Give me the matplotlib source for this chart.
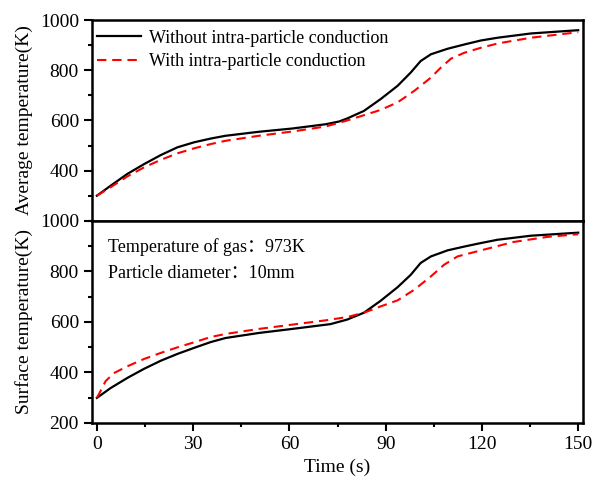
import matplotlib
matplotlib.use('Agg')
import matplotlib.pyplot as plt
from matplotlib.ticker import MultipleLocator

plt.rcParams['font.family'] = ['Liberation Serif', 'Noto Sans CJK SC']

# Average temperature (top panel)
t_avg_wo = [0, 4.3, 9.5, 14.7, 19.9, 25.1, 30.3, 35.5, 40.1, 50.5, 60.9, 71.3, 75.5,
            78, 83.2, 88.4, 93.7, 97.8, 100.9, 104.1, 109.3, 114.5, 119.7, 124.9, 135.3, 150]
T_avg_wo = [300, 340, 387, 426, 462, 493, 513, 528, 539, 555, 568, 585, 596,
            608, 638, 685, 738, 791, 837, 864, 886, 903, 919, 930, 947, 960]
t_avg_w = [0, 4.3, 9.5, 14.7, 19.9, 25.1, 30.3, 35.5, 40.1, 50.5, 60.9, 71.3, 78,
           83.2, 88.4, 93.7, 98.9, 104.1, 107.2, 110.4, 114.5, 119.7, 124.9, 135.3, 150]
T_avg_w = [300, 334, 377, 413, 443, 469, 489, 506, 519, 539, 556, 576, 600,
           621, 642, 672, 718, 771, 811, 847, 870, 890, 907, 930, 952]

# Surface temperature (bottom panel)
t_surf_wo = [0, 4.3, 9.5, 14.7, 19.9, 25.1, 30.3, 35.5, 40.1, 50.5, 60.9, 72.8, 78,
             83.2, 88.4, 93.7, 97.8, 100.9, 104.1, 109.3, 114.5, 119.7, 124.9, 135.3, 150]
T_surf_wo = [299, 338, 378, 414, 446, 473, 497, 520, 536, 556, 572, 591, 609,
             636, 683, 737, 786, 833, 859, 883, 898, 912, 925, 941, 953]
t_surf_w = [0, 1.1, 2.7, 5.3, 9.5, 14.7, 19.9, 25.1, 30.3, 35.5, 40.1, 50.5, 60.9,
            71.3, 78, 83.2, 88.4, 93.7, 98.9, 104.1, 108.2, 112.4, 119.7, 129.8, 140.2, 150]
T_surf_w = [299, 325, 365, 397, 424, 453, 477, 499, 519, 540, 552, 572, 589,
            606, 619, 636, 661, 685, 727, 780, 826, 859, 883, 916, 936, 947]

fig = plt.figure(figsize=(5.94, 4.8), dpi=100)
ax1 = fig.add_axes([0.155, 0.540, 0.8265, 0.418])
ax2 = fig.add_axes([0.155, 0.119, 0.8265, 0.421])

fs = 14
for ax in (ax1, ax2):
    ax.set_xlim(-1.5, 151.5)
    ax.set_ylim(200, 1000)
    ax.xaxis.set_major_locator(MultipleLocator(30))
    ax.xaxis.set_minor_locator(MultipleLocator(15))
    ax.yaxis.set_major_locator(MultipleLocator(200))
    ax.yaxis.set_minor_locator(MultipleLocator(100))
    ax.tick_params(which='major', direction='out', length=6, width=1.5, labelsize=fs)
    ax.tick_params(which='minor', direction='out', length=3, width=1.5)
    for s in ax.spines.values():
        s.set_linewidth(1.8)

ax1.plot(t_avg_wo, T_avg_wo, color='black', lw=1.6, solid_joinstyle='round',
         label='Without intra-particle conduction')
ax1.plot(t_avg_w, T_avg_w, color='red', lw=1.5, ls=(0, (4.5, 2.8)),
         label='With intra-particle conduction')
ax1.set_yticks([400, 600, 800, 1000])
ax1.tick_params(axis='x', which='both', bottom=False, labelbottom=False)
ax1.set_ylabel('Average temperature(K)', fontsize=fs, labelpad=5)
ax1.legend(loc='upper left', bbox_to_anchor=(0.0, 0.98), frameon=False, fontsize=13,
           handlelength=2.4, borderpad=0.25, borderaxespad=0.05,
           labelspacing=0.35, handletextpad=0.45)

ax2.plot(t_surf_wo, T_surf_wo, color='black', lw=1.6, solid_joinstyle='round')
ax2.plot(t_surf_w, T_surf_w, color='red', lw=1.5, ls=(0, (4.5, 2.8)))
ax2.set_ylabel('Surface temperature(K)', fontsize=fs, labelpad=5)
ax2.set_xlabel('Time (s)', fontsize=fs, labelpad=4)
ax2.text(0.033, 0.87, 'Temperature of gas\uff1a973K', transform=ax2.transAxes, fontsize=13, va='center')
ax2.text(0.033, 0.74, 'Particle diameter\uff1a10mm', transform=ax2.transAxes, fontsize=13, va='center')

fig.savefig('out.png', dpi=100)
